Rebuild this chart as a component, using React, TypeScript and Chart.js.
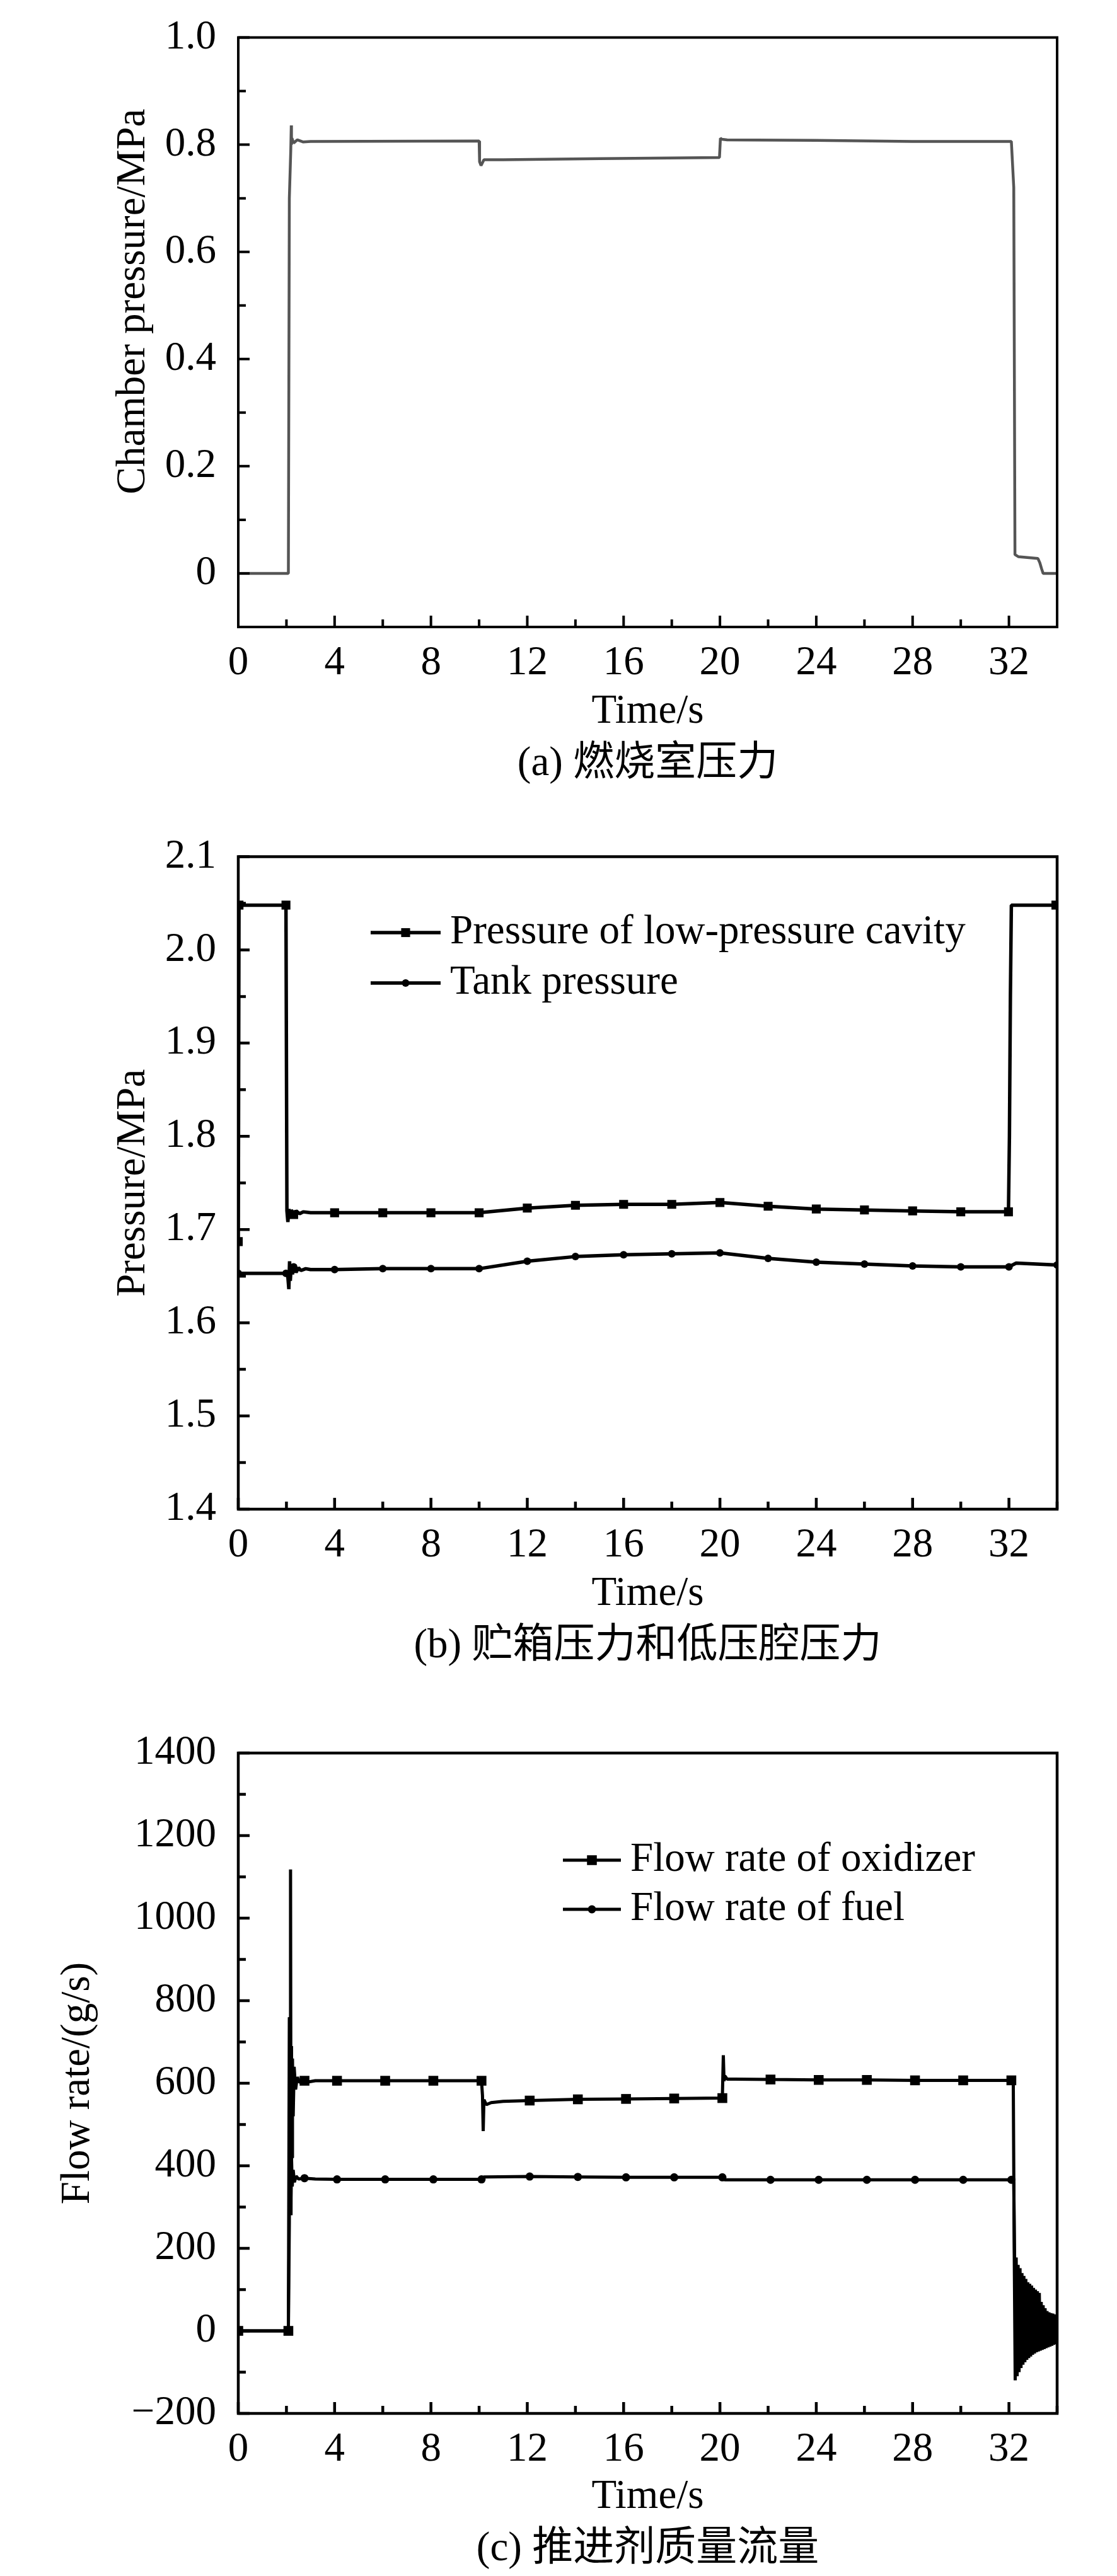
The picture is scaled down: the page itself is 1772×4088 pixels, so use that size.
import React, { useEffect, useRef } from "react";
import { Chart, registerables } from "chart.js";

Chart.register(...registerables);

const FONT = "'Liberation Serif', 'Times New Roman', 'Noto Sans CJK SC', serif";
const PAGE_W = 1772;

// shared time axis
const timeTicks = [0, 2, 4, 6, 8, 10, 12, 14, 16, 18, 20, 22, 24, 26, 28, 30, 32, 34];
const timeTickLabels = ["0", "", "4", "", "8", "", "12", "", "16", "", "20", "", "24", "", "28", "", "32", ""];

// (a) chamber pressure, MPa
const chamberTime = [0, 2.08, 2.12, 2.18, 2.2, 2.21, 2.23, 2.3, 2.45, 2.7, 3, 10, 10.02, 10.08, 10.2, 11, 15, 19.98, 20.02, 20.08, 20.3, 24, 28, 32.1, 32.2, 32.25, 32.4, 33.2, 33.28, 33.36, 33.42, 34];
const chamberPressure = [0, 0, 0.7, 0.79, 0.836, 0.8, 0.812, 0.803, 0.809, 0.805, 0.806, 0.807, 0.768, 0.761, 0.772, 0.772, 0.774, 0.776, 0.812, 0.81, 0.809, 0.808, 0.806, 0.806, 0.72, 0.035, 0.031, 0.028, 0.02, 0.008, 0, 0];
const chamberTicks = [-0.1, 0, 0.1, 0.2, 0.3, 0.4, 0.5, 0.6, 0.7, 0.8, 0.9, 1.0];
const chamberTickLabels = ["", "0", "", "0.2", "", "0.4", "", "0.6", "", "0.8", "", "1.0"];

// (b) low-pressure cavity and tank pressure, MPa
const cavityTime = [0, 0.03, 1.98, 2.02, 2.06, 2.1, 2.15, 2.2, 2.3, 2.4, 2.55, 2.7, 3, 4, 6, 8, 10, 12, 14, 16, 18, 20, 22, 24, 26, 28, 30, 31.98, 32.02, 32.06, 32.1, 33.95];
const cavityPressure = [1.687, 2.048, 2.048, 1.72, 1.708, 1.722, 1.714, 1.721, 1.716, 1.72, 1.717, 1.719, 1.718, 1.718, 1.718, 1.718, 1.718, 1.723, 1.726, 1.727, 1.727, 1.729, 1.725, 1.722, 1.721, 1.72, 1.719, 1.719, 1.8, 1.95, 2.048, 2.048];
const cavityMarks = [0, 0.03, 1.98, 2.3, 4, 6, 8, 10, 12, 14, 16, 18, 20, 22, 24, 26, 28, 30, 31.98, 33.95];

const tankTime = [0, 1.98, 2.05, 2.1, 2.13, 2.16, 2.2, 2.25, 2.3, 2.4, 2.5, 2.6, 2.8, 3, 4, 6, 8, 10, 12, 14, 16, 18, 20, 22, 24, 26, 28, 30, 32, 32.3, 34];
const tankPressure = [1.653, 1.653, 1.652, 1.636, 1.666, 1.645, 1.662, 1.652, 1.66, 1.654, 1.659, 1.656, 1.658, 1.657, 1.657, 1.658, 1.658, 1.658, 1.666, 1.671, 1.673, 1.674, 1.675, 1.669, 1.665, 1.663, 1.661, 1.66, 1.66, 1.664, 1.662];
const tankMarks = [0, 1.98, 2.3, 4, 6, 8, 10, 12, 14, 16, 18, 20, 22, 24, 26, 28, 30, 32, 34];

const pressureTicks = [1.4, 1.45, 1.5, 1.55, 1.6, 1.65, 1.7, 1.75, 1.8, 1.85, 1.9, 1.95, 2.0, 2.05, 2.1];
const pressureTickLabels = ["1.4", "", "1.5", "", "1.6", "", "1.7", "", "1.8", "", "1.9", "", "2.0", "", "2.1"];

// (c) propellant mass flow, g/s
const oxidizerTime = [
  0, 2.08, 2.12, 2.15, 2.17, 2.19, 2.21, 2.23, 2.25, 2.28, 2.32, 2.38, 2.45, 2.55, 2.75, 2.9, 3.2,
  4.1, 6.1, 8.1, 10.1, 10.14, 10.17, 10.2, 10.3, 10.5, 11, 12.1, 14.1, 16.1, 18.1, 20.1,
  20.14, 20.17, 20.2, 20.3, 20.6, 22.1, 24.1, 26.1, 28.1, 30.1, 32.1, 32.18, 32.22,
  32.26, 32.3, 32.34, 32.38, 32.42, 32.46, 32.5, 32.54, 32.58, 32.62, 32.66, 32.7, 32.74, 32.78,
  32.82, 32.86, 32.9, 32.94, 32.98, 33.02, 33.06, 33.1, 33.14, 33.18, 33.22, 33.26, 33.3, 33.34,
  33.38, 33.42, 33.46, 33.5, 33.54, 33.58, 33.62, 33.66, 33.7, 33.74, 33.78, 33.82, 33.86, 33.9,
  33.94, 33.98,
];
const oxidizerFlow = [
  0, 0, 760, 300, 1118, 280, 690, 420, 660, 520, 640, 585, 615, 602, 606, 603, 606,
  606, 606, 606, 606, 570, 484, 560, 548, 553, 556, 558, 561, 562, 563, 564,
  668, 605, 618, 610, 610, 609, 608, 608, 607, 607, 607, 600, 186,
  -120, 178, -110, 160, -100, 152, -90, 140, -82, 133, -76, 126, -70, 118,
  -66, 114, -62, 110, -58, 104, -55, 100, -52, 96, -50, 92, -48, 70,
  -46, 62, -44, 55, -42, 48, -40, 45, -38, 43, -36, 42, -34, 40,
  -32, 38,
];
const oxidizerMarks = [0, 2.08, 2.75, 4.1, 6.1, 8.1, 10.1, 12.1, 14.1, 16.1, 18.1, 20.1, 22.1, 24.1, 26.1, 28.1, 30.1, 32.1];

const fuelTime = [
  0, 2.08, 2.12, 2.15, 2.18, 2.21, 2.24, 2.28, 2.33, 2.4, 2.5, 2.75, 3.2,
  4.1, 6.1, 8.1, 10.1, 10.2, 12.1, 14.1, 16.1, 18.1, 20.1, 20.2, 22.1, 24.1, 26.1, 28.1, 30.1, 32.1,
  32.2, 32.24, 32.3, 32.36, 32.44, 32.52, 32.62, 32.72, 32.85, 33, 33.2, 33.4, 33.6, 33.8, 33.98,
];
const fuelFlow = [
  0, 0, 265, 760, 300, 420, 350, 390, 360, 375, 368, 370, 368,
  367, 367, 367, 367, 373, 374, 373, 372, 372, 372, 366, 366, 366, 366, 366, 366, 366,
  360, 150, -90, 130, -70, 110, -55, 95, -45, 80, -40, 60, -30, 40, -20,
];
const fuelMarks = [0, 2.08, 2.75, 4.1, 6.1, 8.1, 10.1, 12.1, 14.1, 16.1, 18.1, 20.1, 22.1, 24.1, 26.1, 28.1, 30.1, 32.1];

const flowTicks = [-200, -100, 0, 100, 200, 300, 400, 500, 600, 700, 800, 900, 1000, 1100, 1200, 1300, 1400];
const flowTickLabels = ["\u2212200", "", "0", "", "200", "", "400", "", "600", "", "800", "", "1000", "", "1200", "", "1400"];

interface Series {
  label: string;
  time: number[];
  values: number[];
  marks: number[];
  pointStyle: "rect" | "circle" | false;
  radius: number;
  color: string;
  width: number;
}

interface LegendBox {
  x1: number;
  x2: number;
  textX: number;
  rows: number[];
}

interface PanelProps {
  height: number;
  top: number;
  bottom: number;
  yTicks: number[];
  yTickLabels: string[];
  yTitle: string;
  yTitlePad: number;
  caption: string;
  captionPad: number;
  frameWidth: number;
  series: Series[];
  legend?: LegendBox;
}

// box round the plot area, with inward ticks
const axisFrame = {
  id: "axisFrame",
  afterDatasetsDraw(chart: any, _args: any, opts: any) {
    const { ctx, chartArea: a, scales } = chart;
    ctx.save();
    ctx.strokeStyle = "#000";
    ctx.lineWidth = opts.width;
    ctx.beginPath();
    for (const t of scales.x.ticks) {
      const px = scales.x.getPixelForValue(t.value);
      const len = t.label ? opts.major : opts.minor;
      ctx.moveTo(px, a.bottom);
      ctx.lineTo(px, a.bottom - len);
    }
    for (const t of scales.y.ticks) {
      const py = scales.y.getPixelForValue(t.value);
      const len = t.label ? opts.major : opts.minor;
      ctx.moveTo(a.left, py);
      ctx.lineTo(a.left + len, py);
    }
    ctx.stroke();
    ctx.strokeRect(a.left, a.top, a.right - a.left, a.bottom - a.top);
    ctx.restore();
  },
};

// line + marker legend like the original plots
const seriesLegend = {
  id: "seriesLegend",
  afterDatasetsDraw(chart: any, _args: any, opts: any) {
    if (!opts || !opts.rows) return;
    const { ctx } = chart;
    ctx.save();
    chart.data.datasets.forEach((ds: any, i: number) => {
      const y = opts.rows[i];
      ctx.strokeStyle = ds.borderColor;
      ctx.lineWidth = ds.borderWidth;
      ctx.beginPath();
      ctx.moveTo(opts.x1, y);
      ctx.lineTo(opts.x2, y);
      ctx.stroke();
      const cx = (opts.x1 + opts.x2) / 2;
      ctx.fillStyle = ds.borderColor;
      if (ds.pointStyle === "rect") {
        const s = ds.markerRadius * Math.SQRT2;
        ctx.fillRect(cx - s / 2, y - s / 2, s, s);
      } else if (ds.pointStyle === "circle") {
        ctx.beginPath();
        ctx.arc(cx, y, ds.markerRadius, 0, Math.PI * 2);
        ctx.fill();
      }
      ctx.font = `65px ${FONT}`;
      ctx.textBaseline = "middle";
      ctx.textAlign = "left";
      ctx.fillText(ds.label, opts.textX, y);
    });
    ctx.restore();
  },
};

const Panel = (p: PanelProps) => {
  const canvasRef = useRef<HTMLCanvasElement>(null);
  const chartRef = useRef<Chart | null>(null);

  useEffect(() => {
    if (!canvasRef.current) return;
    chartRef.current?.destroy();

    const datasets = p.series.map((s) => {
      const marks = new Set(s.marks);
      return {
        label: s.label,
        data: s.time.map((t, i) => ({ x: t, y: s.values[i] })),
        borderColor: s.color,
        borderWidth: s.width,
        borderJoinStyle: "bevel" as const,
        tension: 0,
        fill: false,
        pointStyle: s.pointStyle,
        markerRadius: s.radius,
        pointBackgroundColor: s.color,
        pointBorderWidth: 0,
        pointRadius: (ctx: any) =>
          ctx.type === "data" && marks.has(s.time[ctx.dataIndex]) ? s.radius : 0,
      };
    });

    chartRef.current = new Chart(canvasRef.current, {
      type: "line",
      data: { datasets },
      plugins: [axisFrame, seriesLegend],
      options: {
        responsive: false,
        animation: false,
        events: [],
        layout: { padding: { top: p.top, right: 95, bottom: 0, left: 0 } },
        plugins: {
          legend: { display: false },
          tooltip: { enabled: false },
          axisFrame: { width: p.frameWidth, major: 18, minor: 12 },
          seriesLegend: p.legend ?? false,
        } as any,
        scales: {
          x: {
            type: "linear",
            min: 0,
            max: 34,
            grid: { display: false },
            border: { display: false },
            afterBuildTicks: (scale: any) => {
              scale.ticks = timeTicks.map((v) => ({ value: v }));
            },
            afterFit: (scale: any) => {
              scale.height = p.height - p.bottom;
            },
            ticks: {
              autoSkip: false,
              maxRotation: 0,
              minRotation: 0,
              padding: 17,
              color: "#000",
              font: { family: FONT, size: 65, lineHeight: 1 },
              callback: (_v: any, i: number) => timeTickLabels[i],
            },
            title: {
              display: true,
              text: ["Time/s", p.caption],
              color: "#000",
              font: { family: FONT, size: 65, lineHeight: 1.28 },
              padding: { top: 0, bottom: p.captionPad },
            },
          },
          y: {
            type: "linear",
            min: p.yTicks[0],
            max: p.yTicks[p.yTicks.length - 1],
            grid: { display: false },
            border: { display: false },
            afterBuildTicks: (scale: any) => {
              scale.ticks = p.yTicks.map((v) => ({ value: v }));
            },
            afterFit: (scale: any) => {
              scale.width = 378;
            },
            ticks: {
              autoSkip: false,
              padding: 27,
              color: "#000",
              font: { family: FONT, size: 65, lineHeight: 1 },
              callback: (_v: any, i: number) => p.yTickLabels[i],
            },
            title: {
              display: true,
              text: p.yTitle,
              color: "#000",
              font: { family: FONT, size: 65, lineHeight: 1.2 },
              padding: { top: p.yTitlePad, bottom: 0 },
            },
          },
        },
      },
    } as any);

    return () => chartRef.current?.destroy();
  }, [p]);

  return <canvas ref={canvasRef} width={PAGE_W} height={p.height} style={{ display: "block" }} />;
};

const chamberPanel: PanelProps = {
  height: 1300,
  top: 37,
  bottom: 995,
  yTicks: chamberTicks,
  yTickLabels: chamberTickLabels,
  yTitle: "\u2002\u2002\u2002Chamber pressure/MPa",
  yTitlePad: 173,
  caption: "(a) 燃烧室压力",
  captionPad: 45,
  frameWidth: 4,
  series: [
    {
      label: "Chamber pressure",
      time: chamberTime,
      values: chamberPressure,
      marks: [],
      pointStyle: false,
      radius: 0,
      color: "#555555",
      width: 4.5,
    },
  ],
};

const pressurePanel: PanelProps = {
  height: 1400,
  top: 45,
  bottom: 1095,
  yTicks: pressureTicks,
  yTickLabels: pressureTickLabels,
  yTitle: "Pressure/MPa",
  yTitlePad: 173,
  caption: "(b) 贮箱压力和低压腔压力",
  captionPad: 45,
  frameWidth: 4.5,
  series: [
    {
      label: "Pressure of low-pressure cavity",
      time: cavityTime,
      values: cavityPressure,
      marks: cavityMarks,
      pointStyle: "rect",
      radius: 10,
      color: "#000000",
      width: 5.5,
    },
    {
      label: "Tank pressure",
      time: tankTime,
      values: tankPressure,
      marks: tankMarks,
      pointStyle: "circle",
      radius: 6,
      color: "#000000",
      width: 5.5,
    },
  ],
  legend: { x1: 588, x2: 699, textX: 714, rows: [180, 260] },
};

const flowPanel: PanelProps = {
  height: 1388,
  top: 82,
  bottom: 1130,
  yTicks: flowTicks,
  yTickLabels: flowTickLabels,
  yTitle: "Flow rate/(g/s)",
  yTitlePad: 85,
  caption: "(c) 推进剂质量流量",
  captionPad: 0,
  frameWidth: 4.5,
  series: [
    {
      label: "Flow rate of oxidizer",
      time: oxidizerTime,
      values: oxidizerFlow,
      marks: oxidizerMarks,
      pointStyle: "rect",
      radius: 11,
      color: "#000000",
      width: 5,
    },
    {
      label: "Flow rate of fuel",
      time: fuelTime,
      values: fuelFlow,
      marks: fuelMarks,
      pointStyle: "circle",
      radius: 6.5,
      color: "#000000",
      width: 5,
    },
  ],
  legend: { x1: 893, x2: 985, textX: 1000, rows: [252, 330] },
};

export default function App() {
  useEffect(() => {
    document.body.style.margin = "0";
  }, []);

  return (
    <div style={{ width: PAGE_W, background: "#fff" }}>
      <Panel {...chamberPanel} />
      <Panel {...pressurePanel} />
      <Panel {...flowPanel} />
    </div>
  );
}
